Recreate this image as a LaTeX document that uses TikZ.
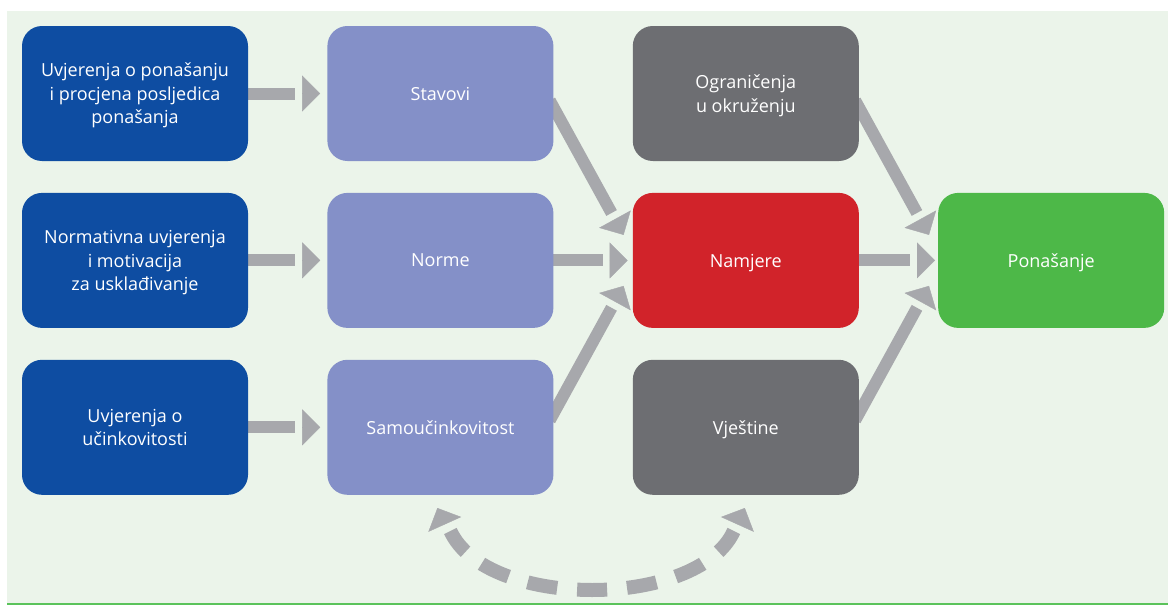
\documentclass[tikz,border=0pt]{standalone}
\usepackage{fontspec}
\setmainfont{Open Sans}
\usetikzlibrary{positioning,calc,arrows.meta}

\definecolor{beliefblue}{HTML}{0E4DA2}
\definecolor{lavender}{HTML}{8490C8}
\definecolor{limitgray}{HTML}{6D6E72}
\definecolor{intentred}{HTML}{D1232A}
\definecolor{actgreen}{HTML}{4DB848}
\definecolor{flowgray}{HTML}{A7A8AC}
\definecolor{bgtint}{HTML}{EBF4EA}
\definecolor{bgline}{HTML}{5BC35B}

\pgfdeclarelayer{back}
\pgfdeclarelayer{flows}
\pgfsetlayers{back,flows,main}

\tikzset{
    box/.style={rectangle, rounded corners=20pt, minimum width=226pt, minimum height=135pt,
        inner sep=0pt, text depth=0pt, text=white, align=center, font=\fontsize{18pt}{23.5pt}\selectfont},
    belief/.style={box, fill=beliefblue},
    attitude/.style={box, fill=lavender},
    limit/.style={box, fill=limitgray},
    intent/.style={box, fill=intentred},
    act/.style={box, fill=actgreen},
    flow/.style={draw=flowgray, line width=12pt},
    flowhead/.style={draw=flowgray, fill=flowgray, line width=0.4pt, -{Triangle[length=18pt,width=36pt]}},
    feedback/.style={draw=flowgray, line width=14pt, dash pattern=on 30pt off 20pt, dash phase=15pt},
}

\newcommand{\flowto}[2]{%
    \draw[flow] ($(#1)!-8pt!(#2)$) -- ($(#2)!25pt!(#1)$);
    \draw[flowhead] ($(#2)!18pt!(#1)$) -- (#2);
}

\begin{document}
\begin{tikzpicture}
    \useasboundingbox (0,0) rectangle (1168pt,-605pt);

    \node[belief] (ubel) at (135pt,-93.5pt) {Uvjerenja o ponašanju\\i procjena posljedica\\ponašanja};
    \node[belief, below=31.5pt of ubel] (nbel) {Normativna uvjerenja\\i motivacija\\za usklađivanje};
    \node[belief, below=31.5pt of nbel] (sbel) {Uvjerenja o\\učinkovitosti};

    \node[attitude, right=79pt of ubel] (stav) {Stavovi};
    \node[attitude, right=79pt of nbel] (norm) {Norme};
    \node[attitude, right=79pt of sbel] (samo) {Samoučinkovitost};

    \node[limit, right=79pt of stav] (ogr) {Ograničenja\\u okruženju};
    \node[intent, right=79pt of norm] (nam) {Namjere};
    \node[limit, right=79pt of samo] (vjes) {Vještine};

    \node[act, right=79pt of nam] (pon) {Ponašanje};

    \begin{pgfonlayer}{back}
        \fill[bgtint] (7pt,-11pt) rectangle (1168pt,-603pt);
        \draw[bgline, line width=1.3pt] (7pt,-604pt) -- (1168pt,-604pt);
    \end{pgfonlayer}

    \begin{pgfonlayer}{flows}
        \flowto{ubel.east}{[xshift=-7pt]stav.west}
        \flowto{nbel.east}{[xshift=-7pt]norm.west}
        \flowto{sbel.east}{[xshift=-7pt]samo.west}

        \flowto{[yshift=-14pt]stav.east}{[shift={(-9pt,25.5pt)}]nam.west}
        \flowto{norm.east}{[xshift=-5pt]nam.west}
        \flowto{[yshift=14pt]samo.east}{[shift={(-9pt,-25.5pt)}]nam.west}

        \flowto{[yshift=-14pt]ogr.east}{[shift={(-9pt,25.5pt)}]pon.west}
        \flowto{nam.east}{[xshift=-3pt]pon.west}
        \flowto{[yshift=14pt]vjes.east}{[shift={(-9pt,-25.5pt)}]pon.west}

        \coordinate (fbl) at ([shift={(10pt,-36pt)}]samo.south);
        \coordinate (fbr) at ([shift={(-12pt,-36pt)}]vjes.south);
        \coordinate (fbm) at ($($(fbl)!0.5!(fbr)$)+(0,-59pt)$);
        \draw[feedback] (fbm) .. controls +(-61pt,0) and +(18pt,-39.5pt) .. (fbl);
        \draw[feedback] (fbm) .. controls +(61pt,0) and +(-18pt,-39.5pt) .. (fbr);
        \draw[flowhead] ([shift={(4.4pt,-29.4pt)}]samo.south) -- ([shift={(-3pt,-13pt)}]samo.south);
        \draw[flowhead] ([shift={(-8.4pt,-29.4pt)}]vjes.south) -- ([shift={(-1pt,-13pt)}]vjes.south);
    \end{pgfonlayer}
\end{tikzpicture}
\end{document}
